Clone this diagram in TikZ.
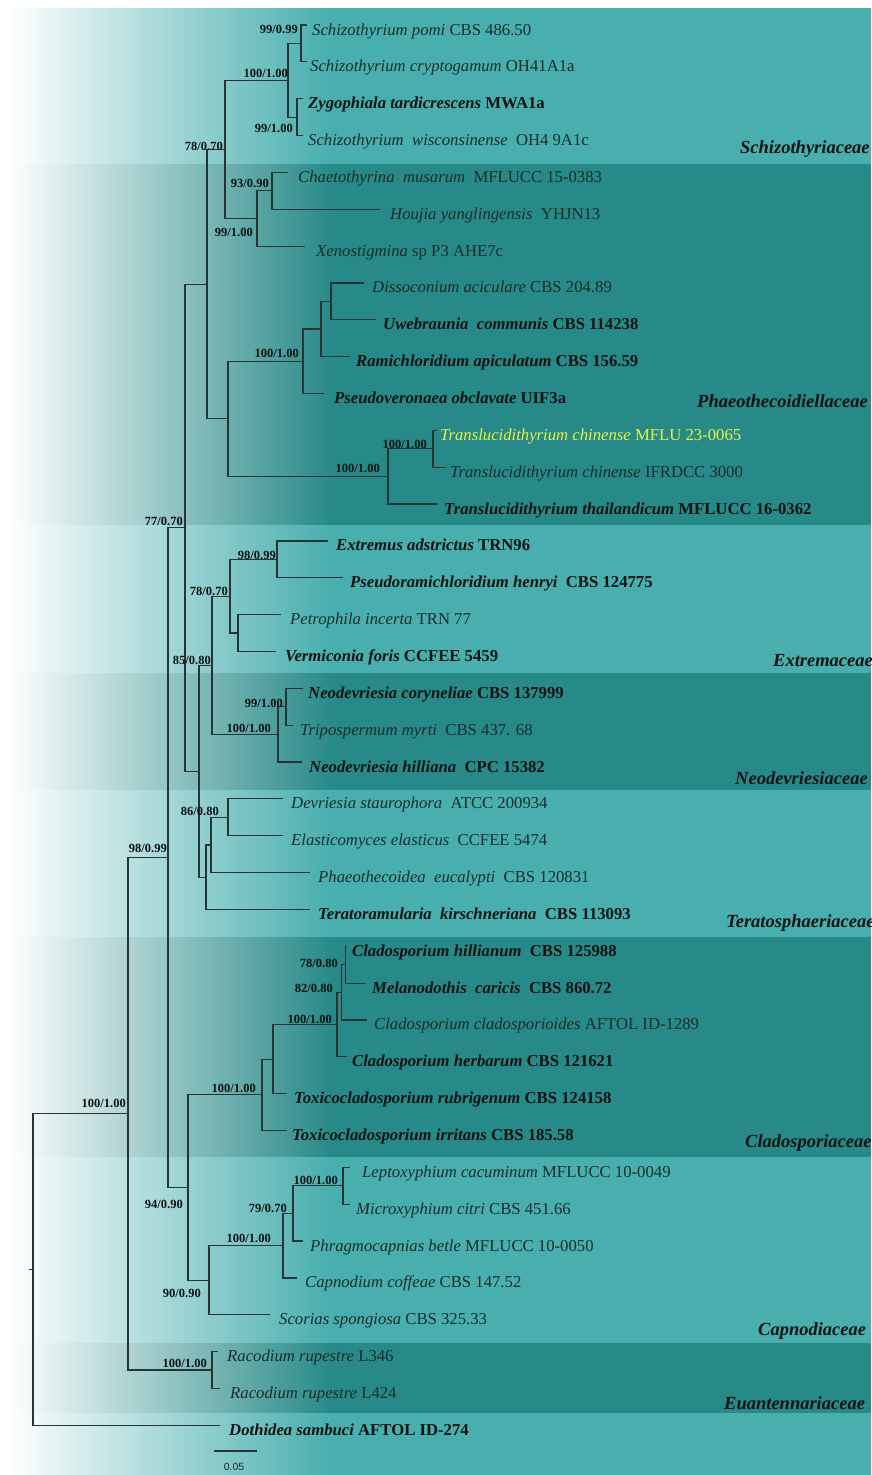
\documentclass[tikz,border=0pt]{standalone}
\usepackage{fontspec}
\setmainfont{Liberation Serif}
\newfontfamily\scalebarfont{Liberation Sans}
\definecolor{lightband}{RGB}{72,174,174}
\definecolor{darkband}{RGB}{40,138,136}
\definecolor{treeline}{RGB}{38,52,52}
\definecolor{taxtext}{RGB}{24,44,44}
\definecolor{boldtext}{RGB}{10,18,18}
\definecolor{hilite}{RGB}{228,242,72}
\pgfmathdeclarefunction{rowy}{1}{\pgfmathparse{25+(#1-1)*36.85}}
\begin{document}
\begin{tikzpicture}[x=1pt,y=-1pt,
 branch/.style={draw=treeline, line width=1.2pt},
 taxon/.style={anchor=base west, inner sep=0pt, font=\fontsize{16.7}{18}\selectfont, text=taxtext},
 btaxon/.style={anchor=base west, inner sep=0pt, font=\fontsize{16.7}{18}\selectfont\bfseries, text=boldtext},
 support/.style={anchor=east, inner sep=0pt, font=\fontsize{12.5}{14}\selectfont\bfseries, text=boldtext},
 family/.style={anchor=west, inner sep=0pt, font=\fontsize{18.5}{20}\selectfont\bfseries\itshape, text=boldtext},
]
\useasboundingbox (0,0) rectangle (871,1475);
\fill[white] (0,0) rectangle (871,1475);
% background bands
\foreach \ya/\yb/\cc in {8/164/lightband,164/525/darkband,525/673/lightband,673/790/darkband,790/937/lightband,937/1157/darkband,1157/1343/lightband,1343/1413/darkband,1413/1475/lightband}{
  \shade[left color=white, right color=\cc] (8,\ya) rectangle (331,\yb);
  \fill[\cc] (330,\ya) rectangle (871,\yb);
}
% node heights
\pgfmathsetmacro\yypc{(rowy(1)+rowy(2))/2}
\pgfmathsetmacro\yyzw{(rowy(3)+rowy(4))/2}
\pgfmathsetmacro\yyschizo{(\yypc+\yyzw)/2}
\pgfmathsetmacro\yycm{(rowy(5)+rowy(6))/2}
\pgfmathsetmacro\yycx{(\yycm+rowy(7))/2}
\pgfmathsetmacro\yya{(\yyschizo+\yycx)/2}
\pgfmathsetmacro\yyf{(rowy(8)+rowy(9))/2}
\pgfmathsetmacro\yye{(\yyf+rowy(10))/2}
\pgfmathsetmacro\yyd{(\yye+rowy(11))/2}
\pgfmathsetmacro\yyg{(rowy(12)+rowy(13))/2}
\pgfmathsetmacro\yytrans{(\yyg+rowy(14))/2}
\pgfmathsetmacro\yyphaeo{(\yyd+\yytrans)/2}
\pgfmathsetmacro\yyb{(\yya+\yyphaeo)/2}
\pgfmathsetmacro\yyk{(rowy(15)+rowy(16))/2}
\pgfmathsetmacro\yyl{(rowy(17)+rowy(18))/2}
\pgfmathsetmacro\yyj{(\yyk+\yyl)/2}
\pgfmathsetmacro\yyn{(rowy(19)+rowy(20))/2}
\pgfmathsetmacro\yym{(\yyn+rowy(21))/2}
\pgfmathsetmacro\yyi{(\yyj+\yym)/2}
\pgfmathsetmacro\yyp{(rowy(22)+rowy(23))/2}
\pgfmathsetmacro\yyo{(\yyp+rowy(24))/2}
\pgfmathsetmacro\yytera{(\yyo+rowy(25))/2}
\pgfmathsetmacro\yyh{(\yyi+\yytera)/2}
\pgfmathsetmacro\yyc{(\yyb+\yyh)/2}
\pgfmathsetmacro\yyv{(rowy(26)+rowy(27))/2}
\pgfmathsetmacro\yyu{(\yyv+rowy(28))/2}
\pgfmathsetmacro\yyt{(\yyu+rowy(29))/2}
\pgfmathsetmacro\yys{(\yyt+rowy(30))/2}
\pgfmathsetmacro\yyclado{(\yys+rowy(31))/2}
\pgfmathsetmacro\yyy{(rowy(32)+rowy(33))/2}
\pgfmathsetmacro\yyx{(\yyy+rowy(34))/2}
\pgfmathsetmacro\yyw{(\yyx+rowy(35))/2}
\pgfmathsetmacro\yycapno{(\yyw+rowy(36))/2}
\pgfmathsetmacro\yyr{(\yyclado+\yycapno)/2}
\pgfmathsetmacro\yyq{(\yyc+\yyr)/2}
\pgfmathsetmacro\yyrac{(rowy(37)+rowy(38))/2}
\pgfmathsetmacro\yyrt{(\yyq+\yyrac)/2}
\pgfmathsetmacro\yyroot{(\yyrt+rowy(39))/2}
% internal nodes
\coordinate (npc) at (301,\yypc);
\coordinate (nzw) at (297,\yyzw);
\coordinate (nschizo) at (288,\yyschizo);
\coordinate (ncm) at (272,\yycm);
\coordinate (ncx) at (257,\yycx);
\coordinate (na) at (225,\yya);
\coordinate (nf) at (331,\yyf);
\coordinate (ne) at (321,\yye);
\coordinate (nd) at (303,\yyd);
\coordinate (ng) at (433,\yyg);
\coordinate (ntrans) at (388,\yytrans);
\coordinate (nphaeo) at (228,\yyphaeo);
\coordinate (nb) at (207,\yyb);
\coordinate (nk) at (277,\yyk);
\coordinate (nl) at (238,\yyl);
\coordinate (nj) at (230,\yyj);
\coordinate (nn) at (286,\yyn);
\coordinate (nm) at (278,\yym);
\coordinate (ni) at (212,\yyi);
\coordinate (np) at (228,\yyp);
\coordinate (no) at (211,\yyo);
\coordinate (ntera) at (206,\yytera);
\coordinate (nh) at (199,\yyh);
\coordinate (nc) at (185,\yyc);
\coordinate (nv) at (345.5,\yyv);
\coordinate (nu) at (341.5,\yyu);
\coordinate (nt) at (337,\yyt);
\coordinate (ns) at (273,\yys);
\coordinate (nclado) at (262,\yyclado);
\coordinate (ny) at (343,\yyy);
\coordinate (nx) at (293,\yyx);
\coordinate (nw) at (283,\yyw);
\coordinate (ncapno) at (209,\yycapno);
\coordinate (nr) at (188,\yyr);
\coordinate (nq) at (168,\yyq);
\coordinate (nrac) at (212,\yyrac);
\coordinate (nrt) at (128,\yyrt);
\coordinate (nroot) at (33,\yyroot);
\coordinate (stub) at (29,\yyroot);
% leaf tips
\coordinate (t1) at (307,{rowy(1)});
\coordinate (t2) at (307,{rowy(2)});
\coordinate (t3) at (303,{rowy(3)});
\coordinate (t4) at (303,{rowy(4)});
\coordinate (t5) at (288,{rowy(5)});
\coordinate (t6) at (380,{rowy(6)});
\coordinate (t7) at (305,{rowy(7)});
\coordinate (t8) at (364,{rowy(8)});
\coordinate (t9) at (376,{rowy(9)});
\coordinate (t10) at (350,{rowy(10)});
\coordinate (t11) at (324,{rowy(11)});
\coordinate (t12) at (437,{rowy(12)});
\coordinate (t13) at (446,{rowy(13)});
\coordinate (t14) at (437,{rowy(14)});
\coordinate (t15) at (328,{rowy(15)});
\coordinate (t16) at (343,{rowy(16)});
\coordinate (t17) at (281,{rowy(17)});
\coordinate (t18) at (276,{rowy(18)});
\coordinate (t19) at (303,{rowy(19)});
\coordinate (t20) at (293,{rowy(20)});
\coordinate (t21) at (302,{rowy(21)});
\coordinate (t22) at (283,{rowy(22)});
\coordinate (t23) at (283,{rowy(23)});
\coordinate (t24) at (310,{rowy(24)});
\coordinate (t25) at (310,{rowy(25)});
\coordinate (t26) at (347,{rowy(26)});
\coordinate (t27) at (365,{rowy(27)});
\coordinate (t28) at (367,{rowy(28)});
\coordinate (t29) at (347,{rowy(29)});
\coordinate (t30) at (287,{rowy(30)});
\coordinate (t31) at (287,{rowy(31)});
\coordinate (t32) at (350,{rowy(32)});
\coordinate (t33) at (350,{rowy(33)});
\coordinate (t34) at (303,{rowy(34)});
\coordinate (t35) at (297,{rowy(35)});
\coordinate (t36) at (270,{rowy(36)});
\coordinate (t37) at (218,{rowy(37)});
\coordinate (t38) at (220,{rowy(38)});
\coordinate (t39) at (220,{rowy(39)});
% branches
\draw[branch] (npc) |- (t1); \draw[branch] (npc) |- (t2);
\draw[branch] (nzw) |- (t3); \draw[branch] (nzw) |- (t4);
\draw[branch] (nschizo) |- (npc); \draw[branch] (nschizo) |- (nzw);
\draw[branch] (ncm) |- (t5); \draw[branch] (ncm) |- (t6);
\draw[branch] (ncx) |- (ncm); \draw[branch] (ncx) |- (t7);
\draw[branch] (na) |- (nschizo); \draw[branch] (na) |- (ncx);
\draw[branch] (nf) |- (t8); \draw[branch] (nf) |- (t9);
\draw[branch] (ne) |- (nf); \draw[branch] (ne) |- (t10);
\draw[branch] (nd) |- (ne); \draw[branch] (nd) |- (t11);
\draw[branch] (ng) |- (t12); \draw[branch] (ng) |- (t13);
\draw[branch] (ntrans) |- (ng); \draw[branch] (ntrans) |- (t14);
\draw[branch] (nphaeo) |- (nd); \draw[branch] (nphaeo) |- (ntrans);
\draw[branch] (nb) |- (na); \draw[branch] (nb) |- (nphaeo);
\draw[branch] (nk) |- (t15); \draw[branch] (nk) |- (t16);
\draw[branch] (nl) |- (t17); \draw[branch] (nl) |- (t18);
\draw[branch] (nj) |- (nk); \draw[branch] (nj) |- (nl);
\draw[branch] (nn) |- (t19); \draw[branch] (nn) |- (t20);
\draw[branch] (nm) |- (nn); \draw[branch] (nm) |- (t21);
\draw[branch] (ni) |- (nj); \draw[branch] (ni) |- (nm);
\draw[branch] (np) |- (t22); \draw[branch] (np) |- (t23);
\draw[branch] (no) |- (np); \draw[branch] (no) |- (t24);
\draw[branch] (ntera) |- (no); \draw[branch] (ntera) |- (t25);
\draw[branch] (nh) |- (ni); \draw[branch] (nh) |- (ntera);
\draw[branch] (nc) |- (nb); \draw[branch] (nc) |- (nh);
\draw[branch] (nv) |- (t26); \draw[branch] (nv) |- (t27);
\draw[branch] (nu) |- (nv); \draw[branch] (nu) |- (t28);
\draw[branch] (nt) |- (nu); \draw[branch] (nt) |- (t29);
\draw[branch] (ns) |- (nt); \draw[branch] (ns) |- (t30);
\draw[branch] (nclado) |- (ns); \draw[branch] (nclado) |- (t31);
\draw[branch] (ny) |- (t32); \draw[branch] (ny) |- (t33);
\draw[branch] (nx) |- (ny); \draw[branch] (nx) |- (t34);
\draw[branch] (nw) |- (nx); \draw[branch] (nw) |- (t35);
\draw[branch] (ncapno) |- (nw); \draw[branch] (ncapno) |- (t36);
\draw[branch] (nr) |- (nclado); \draw[branch] (nr) |- (ncapno);
\draw[branch] (nq) |- (nc); \draw[branch] (nq) |- (nr);
\draw[branch] (nrac) |- (t37); \draw[branch] (nrac) |- (t38);
\draw[branch] (nrt) |- (nq); \draw[branch] (nrt) |- (nrac);
\draw[branch] (nroot) |- (nrt); \draw[branch] (nroot) |- (t39);
\draw[branch] (stub) -- (nroot);
% taxon labels
\node[taxon] (x1) at (312,{rowy(1)+10}) {\textit{Schizothyrium pomi} CBS 486.50};
\node[taxon] (x2) at (310,{rowy(2)+10}) {\textit{Schizothyrium cryptogamum} OH41A1a};
\node[btaxon] (x3) at (308,{rowy(3)+10}) {\textit{Zygophiala tardicrescens} MWA1a};
\node[taxon] (x4) at (308,{rowy(4)+10}) {\textit{Schizothyrium\ \ wisconsinense}\ \ OH4 9A1c};
\node[taxon] (x5) at (298,{rowy(5)+10}) {\textit{Chaetothyrina\ \ musarum}\ \ MFLUCC 15-0383};
\node[taxon] (x6) at (390,{rowy(6)+10}) {\textit{Houjia yanglingensis}\ \ YHJN13};
\node[taxon] (x7) at (316,{rowy(7)+10}) {\textit{Xenostigmina} sp P3 AHE7c};
\node[taxon] (x8) at (372,{rowy(8)+10}) {\textit{Dissoconium aciculare} CBS 204.89};
\node[btaxon] (x9) at (383,{rowy(9)+10}) {\textit{Uwebraunia\ \ communis} CBS 114238};
\node[btaxon] (x10) at (356,{rowy(10)+10}) {\textit{Ramichloridium apiculatum} CBS 156.59};
\node[btaxon] (x11) at (334,{rowy(11)+10}) {\textit{Pseudoveronaea obclavate} UIF3a};
\node[taxon, text=hilite] (x12) at (440,{rowy(12)+10}) {\textit{Translucidithyrium chinense} MFLU 23-0065};
\node[taxon] (x13) at (450,{rowy(13)+10}) {\textit{Translucidithyrium chinense} IFRDCC 3000};
\node[btaxon] (x14) at (444,{rowy(14)+10}) {\textit{Translucidithyrium thailandicum} MFLUCC 16-0362};
\node[btaxon] (x15) at (336,{rowy(15)+10}) {\textit{Extremus adstrictus} TRN96};
\node[btaxon] (x16) at (350,{rowy(16)+10}) {\textit{Pseudoramichloridium henryi}\ \ CBS 124775};
\node[taxon] (x17) at (290,{rowy(17)+10}) {\textit{Petrophila incerta} TRN 77};
\node[btaxon] (x18) at (285,{rowy(18)+10}) {\textit{Vermiconia foris} CCFEE 5459};
\node[btaxon] (x19) at (308,{rowy(19)+10}) {\textit{Neodevriesia coryneliae} CBS 137999};
\node[taxon] (x20) at (300,{rowy(20)+10}) {\textit{Tripospermum myrti}\ \ CBS 437. 68};
\node[btaxon] (x21) at (309,{rowy(21)+10}) {\textit{Neodevriesia hilliana}\ \ CPC 15382};
\node[taxon] (x22) at (291,{rowy(22)+10}) {\textit{Devriesia staurophora}\ \ ATCC 200934};
\node[taxon] (x23) at (291,{rowy(23)+10}) {\textit{Elasticomyces elasticus}\ \ CCFEE 5474};
\node[taxon] (x24) at (318,{rowy(24)+10}) {\textit{Phaeothecoidea\ \ eucalypti}\ \ CBS 120831};
\node[btaxon] (x25) at (318,{rowy(25)+10}) {\textit{Teratoramularia\ \ kirschneriana}\ \ CBS 113093};
\node[btaxon] (x26) at (352,{rowy(26)+10}) {\textit{Cladosporium hillianum}\ \ CBS 125988};
\node[btaxon] (x27) at (372,{rowy(27)+10}) {\textit{Melanodothis\ \ caricis}\ \ CBS 860.72};
\node[taxon] (x28) at (374,{rowy(28)+10}) {\textit{Cladosporium cladosporioides} AFTOL ID-1289};
\node[btaxon] (x29) at (352,{rowy(29)+10}) {\textit{Cladosporium herbarum} CBS 121621};
\node[btaxon] (x30) at (294,{rowy(30)+10}) {\textit{Toxicocladosporium rubrigenum} CBS 124158};
\node[btaxon] (x31) at (292,{rowy(31)+10}) {\textit{Toxicocladosporium irritans} CBS 185.58};
\node[taxon] (x32) at (362,{rowy(32)+10}) {\textit{Leptoxyphium cacuminum} MFLUCC 10-0049};
\node[taxon] (x33) at (356,{rowy(33)+10}) {\textit{Microxyphium citri} CBS 451.66};
\node[taxon] (x34) at (310,{rowy(34)+10}) {\textit{Phragmocapnias betle} MFLUCC 10-0050};
\node[taxon] (x35) at (305,{rowy(35)+10}) {\textit{Capnodium coffeae} CBS 147.52};
\node[taxon] (x36) at (279,{rowy(36)+10}) {\textit{Scorias spongiosa} CBS 325.33};
\node[taxon] (x37) at (227,{rowy(37)+10}) {\textit{Racodium rupestre} L346};
\node[taxon] (x38) at (230,{rowy(38)+10}) {\textit{Racodium rupestre} L424};
\node[btaxon] (x39) at (229,{rowy(39)+10}) {\textit{Dothidea sambuci} AFTOL ID-274};
% support values
\node[support] (lpc) at (298,29) {99/0.99};
\node[support] (lschizo) at (288,73) {100/1.00};
\node[support] (lzw) at (293,128) {99/1.00};
\node[support] (la) at (223,146) {78/0.70};
\node[support] (lcm) at (269,183) {93/0.90};
\node[support] (lcx) at (253,232) {99/1.00};
\node[support] (ld) at (299,353) {100/1.00};
\node[support] (lg) at (427,444) {100/1.00};
\node[support] (ltrans) at (380,468) {100/1.00};
\node[support] (lc) at (183,521) {77/0.70};
\node[support] (lk) at (276,555) {98/0.99};
\node[support] (lj) at (228,591) {78/0.70};
\node[support] (li) at (211,660) {85/0.80};
\node[support] (ln) at (283,703) {99/1.00};
\node[support] (lm) at (271,728) {100/1.00};
\node[support] (lp) at (219,811) {86/0.80};
\node[support] (lq) at (167,848) {98/0.99};
\node[support] (lv) at (338,963) {78/0.80};
\node[support] (lu) at (333,988) {82/0.80};
\node[support] (lt) at (332,1019) {100/1.00};
\node[support] (lclado) at (256,1088) {100/1.00};
\node[support] (lrt) at (126,1103) {100/1.00};
\node[support] (ly) at (338,1180) {100/1.00};
\node[support] (lr) at (183,1204) {94/0.90};
\node[support] (lx) at (287,1208) {79/0.70};
\node[support] (lw) at (271,1238) {100/1.00};
\node[support] (lcapno) at (201,1293) {90/0.90};
\node[support] (lrac) at (207,1363) {100/1.00};
% family names
\node[family] (f1) at (740,149) {Schizothyriaceae};
\node[family] (f2) at (697,401) {Phaeothecoidiellaceae};
\node[family] (f3) at (773,661) {Extremaceae};
\node[family] (f4) at (735,778) {Neodevriesiaceae};
\node[family] (f5) at (726,923) {Teratosphaeriaceae};
\node[family] (f6) at (745,1143) {Cladosporiaceae};
\node[family] (f7) at (758,1331) {Capnodiaceae};
\node[family] (f8) at (724,1403) {Euantennariaceae};
% scale bar
\coordinate (sb1) at (214,1451);
\coordinate (sb2) at (257,1451);
\draw[branch] (sb1) -- (sb2);
\node[inner sep=0pt, font=\scalebarfont\fontsize{10.5}{12}\selectfont, text=taxtext] (sbl) at (234,1467) {0.05};
\end{tikzpicture}
\end{document}
